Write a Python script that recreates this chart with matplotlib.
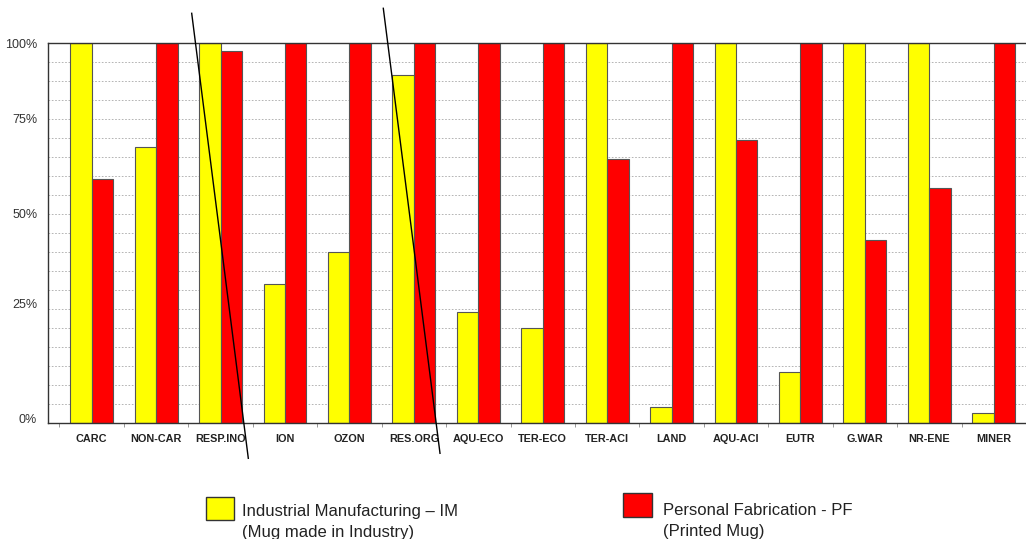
import numpy as np
import matplotlib
matplotlib.use("Agg")
import matplotlib.pyplot as plt
from matplotlib.lines import Line2D
from matplotlib.patches import Rectangle

plt.rcParams["font.family"] = ["Liberation Sans", "DejaVu Sans"]

categories = ["CARC", "NON-CAR", "RESP.INO", "ION", "OZON", "RES.ORG", "AQU-ECO",
              "TER-ECO", "TER-ACI", "LAND", "AQU-ACI", "EUTR", "G.WAR", "NR-ENE", "MINER"]
im_values = [100, 72.6, 100, 36.6, 45.0, 91.6, 29.4, 25.0, 100, 4.4, 100, 13.6, 100, 100, 2.6]
pf_values = [64.3, 100, 98.0, 100, 100, 100, 100, 100, 69.6, 100, 74.6, 100, 48.2, 61.8, 100]

# the y labels in the source sit at odd heights; keep them where they are drawn
ytick_pos = [100, 80.3, 55.3, 31.4, 1.3]
ytick_labels = ["100%", "75%", "50%", "25%", "0%"]

W, H = 1026, 539
fig = plt.figure(figsize=(W / 100, H / 100), dpi=100)
ax = fig.add_axes([48.3 / W, 1 - 423.3 / H, 1 - 48.3 / W, (423.3 - 43.3) / H])

x = np.arange(len(categories))
bw = 0.333
ax.bar(x - bw / 2, im_values, bw, color="#ffff00", edgecolor="#555555", lw=0.8, zorder=2)
ax.bar(x + bw / 2, pf_values, bw, color="#ff0000", edgecolor="#555555", lw=0.8, zorder=2)

ax.set_xlim(-0.673, 14.49)
ax.set_ylim(0, 100)

for g in np.arange(5, 100, 5):
    ax.axhline(g, color="#a8a8a8", lw=0.6, ls=(0, (2, 2)), zorder=1)

ax.set_xticks(x)
ax.set_xticklabels(categories, fontsize=7.8, fontweight="bold", color="#222222")
ax.set_xticks(np.arange(-0.5, 15, 1), minor=True)
ax.tick_params(axis="x", which="major", length=0, pad=8)
ax.tick_params(axis="x", which="minor", length=3, color="#888888", width=0.6)
ax.set_yticks(ytick_pos)
ax.set_yticklabels(ytick_labels, fontsize=9, color="#333333")
ax.tick_params(axis="y", length=0, pad=8)

for s in ("left", "bottom", "top"):
    ax.spines[s].set_color("#333333")
    ax.spines[s].set_linewidth(1.0)
ax.spines["right"].set_visible(False)

# hand-drawn strike lines over RESP.INO and RES.ORG
for (x0, y0), (x1, y1) in [((191.7, 13.3), (248.3, 458.3)), ((383.3, 8.3), (440.0, 453.3))]:
    fig.add_artist(Line2D([x0 / W, x1 / W], [1 - y0 / H, 1 - y1 / H],
                          color="black", lw=1.0, transform=fig.transFigure))

# legend, drawn as boxes + text like the source
legend_items = [
    ("#ffff00", (206, 497.3, 28.3, 22.7), (241.7, 511.7),
     "Industrial Manufacturing \u2013 IM", "(Mug made in Industry)"),
    ("#ff0000", (623.3, 493.3, 29, 23.4), (663.3, 510.7),
     "Personal Fabrication - PF", "(Printed Mug)"),
]
for color, (bx, by, bwid, bh), (tx, ty), l1, l2 in legend_items:
    fig.add_artist(Rectangle((bx / W, 1 - (by + bh) / H), bwid / W, bh / H,
                             facecolor=color, edgecolor="#333333", lw=1.0,
                             transform=fig.transFigure))
    fig.text(tx / W, 1 - ty / H, l1, fontsize=12, va="center", ha="left", color="#222222")
    fig.text(tx / W, 1 - (ty + 20.5) / H, l2, fontsize=12, va="center", ha="left", color="#222222")

fig.savefig("out.png", dpi=100)
